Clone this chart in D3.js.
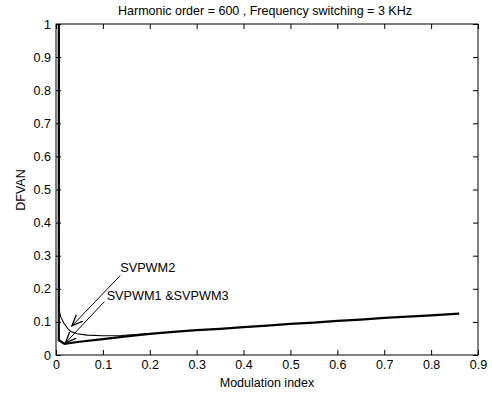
<!DOCTYPE html>
<html><head><meta charset="utf-8">
<script src="https://cdn.jsdelivr.net/npm/d3@7"></script>
<style>
body{margin:0;background:#fff;}
text{font-family:"Liberation Sans",Arial,sans-serif;fill:#000;}
</style></head>
<body><svg id="c" width="492" height="393"></svg>
<script>
const title = "Harmonic order = 600 , Frequency switching = 3 KHz";
const xLabel = "Modulation index";
const yLabel = "DFVAN";
const xTicks = [0,0.1,0.2,0.3,0.4,0.5,0.6,0.7,0.8,0.9];
const yTicks = [0,0.1,0.2,0.3,0.4,0.5,0.6,0.7,0.8,0.9,1];

// SVPWM1 & SVPWM3
const m13 = [0.006,0.006,0.018,0.05,0.1,0.15,0.2,0.25,0.3,0.35,0.4,0.45,0.5,0.55,0.6,0.65,0.7,0.75,0.8,0.86];
const d13 = [1,0.045,0.034,0.040,0.048,0.056,0.064,0.070,0.075,0.079,0.084,0.089,0.094,0.098,0.103,0.107,0.112,0.116,0.120,0.125];
// SVPWM2
const m2 = [0.006,0.006,0.01,0.017,0.025,0.031,0.045,0.066,0.1,0.138,0.17,0.2];
const d2 = [1,0.142,0.115,0.096,0.08,0.071,0.064,0.06,0.058,0.059,0.062,0.065];

const annotations = [
  {label:"SVPWM2", tx:0.137, ty:0.251, x1:0.137, y1:0.24, x2:0.034, y2:0.088},
  {label:"SVPWM1 &SVPWM3", tx:0.108, ty:0.166, x1:0.103, y1:0.161, x2:0.02, y2:0.036}
];

const L=56, R=478, T=24, B=355;
const svg = d3.select("#c");
const x = d3.scaleLinear().domain([0,0.9]).range([L,R]);
const y = d3.scaleLinear().domain([0,1]).range([B,T]);

const fs = "12.5px";
svg.append("g").attr("transform",`translate(0,${B})`)
  .call(d3.axisBottom(x).tickValues(xTicks).tickSize(-5).tickPadding(5).tickFormat(d=>d3.format("")(+d.toFixed(1))))
  .call(g=>{g.select(".domain").remove();g.selectAll("text").style("font-size",fs).attr("font-family","Liberation Sans, Arial");});
svg.append("g").attr("transform",`translate(0,${T})`)
  .call(d3.axisTop(x).tickValues(xTicks).tickSize(-5).tickFormat(""))
  .call(g=>g.select(".domain").remove());
svg.append("g").attr("transform",`translate(${L},0)`)
  .call(d3.axisLeft(y).tickValues(yTicks).tickSize(-5).tickPadding(5).tickFormat(d=>d3.format("")(+d.toFixed(1))))
  .call(g=>{g.select(".domain").remove();g.selectAll("text").style("font-size",fs).attr("font-family","Liberation Sans, Arial");});
svg.append("g").attr("transform",`translate(${R},0)`)
  .call(d3.axisRight(y).tickValues(yTicks).tickSize(-5).tickFormat(""))
  .call(g=>g.select(".domain").remove());
svg.selectAll(".tick line").attr("stroke","#000");

svg.append("rect").attr("x",L).attr("y",T).attr("width",R-L).attr("height",B-T)
  .attr("fill","none").attr("stroke","#000").attr("stroke-width",1);

const line = d3.line().x(d=>x(d[0])).y(d=>y(d[1]));
svg.append("path").datum(m2.map((v,i)=>[v,d2[i]])).attr("d",line)
  .attr("fill","none").attr("stroke","#000").attr("stroke-width",1.1);
svg.append("path").datum(m13.map((v,i)=>[v,d13[i]])).attr("d",line)
  .attr("fill","none").attr("stroke","#000").attr("stroke-width",2.2).attr("stroke-linejoin","miter");

svg.append("defs").append("marker").attr("id","ah").attr("viewBox","0 0 12 12")
  .attr("refX",11).attr("refY",6).attr("markerWidth",12).attr("markerHeight",12)
  .attr("markerUnits","userSpaceOnUse").attr("orient","auto")
  .append("path").attr("d","M0,1.5 L11,6 L0,10.5").attr("fill","none").attr("stroke","#000").attr("stroke-width",1.3);
annotations.forEach(a=>{
  svg.append("line").attr("x1",x(a.x1)).attr("y1",y(a.y1)).attr("x2",x(a.x2)).attr("y2",y(a.y2))
    .attr("stroke","#000").attr("stroke-width",1).attr("marker-end","url(#ah)");
  svg.append("text").attr("x",x(a.tx)).attr("y",y(a.ty)).text(a.label).style("font-size","12.7px");
});

svg.append("text").attr("x",(L+R)/2-2).attr("y",15).attr("text-anchor","middle").style("font-size",fs).text(title);
svg.append("text").attr("x",(L+R)/2).attr("y",387).attr("text-anchor","middle").style("font-size",fs).text(xLabel);
svg.append("text").attr("transform",`translate(25,190) rotate(-90)`).attr("text-anchor","middle").style("font-size",fs).text(yLabel);
</script></body></html>
